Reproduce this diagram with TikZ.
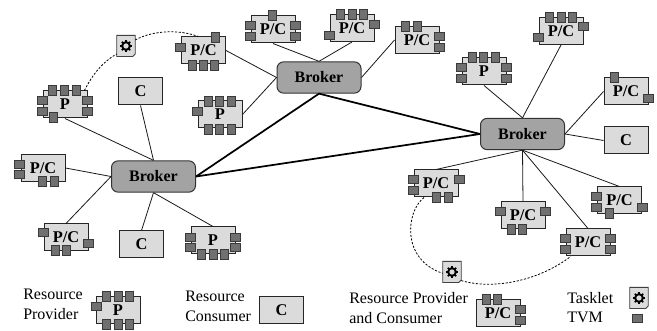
\documentclass[tikz,border=0pt]{standalone}
\usepackage{fontspec}
\setmainfont{Liberation Serif}
\newcounter{tvc}
\definecolor{boxfill}{HTML}{DBDBDB}
\definecolor{brokerfill}{HTML}{A3A3A3}
\definecolor{tvmfill}{HTML}{707070}
\definecolor{tvmline}{HTML}{3A3A3A}
\tikzset{
  compbox/.style={draw=black!85,fill=boxfill,line width=0.75pt,minimum width=33pt,minimum height=20.25pt,inner sep=0pt,font=\fontsize{12.3}{12.3}\selectfont\bfseries},
  brokerbox/.style={draw=black!80,fill=brokerfill,line width=0.75pt,rounded corners=5pt,minimum width=63pt,minimum height=23.5pt,inner sep=0pt,font=\fontsize{12}{12}\selectfont\bfseries},
  tvmh/.style={draw=tvmline,fill=tvmfill,line width=0.6pt,minimum width=7.6pt,minimum height=6pt,inner sep=0pt},
  tvmv/.style={draw=tvmline,fill=tvmfill,line width=0.6pt,minimum width=6pt,minimum height=7.6pt,inner sep=0pt},
  link/.style={draw=black!90,line width=0.6pt},
  thicklink/.style={draw=black,line width=1.3pt},
  taskpath/.style={draw=black,line width=0.6pt,dash pattern=on 1.6pt off 1.2pt},
  legend/.style={anchor=base west,inner sep=0pt,font=\fontsize{12}{12}\selectfont},
  taskbox/.style={draw=none,fill=none,minimum width=13.5pt,minimum height=15.5pt,inner sep=0pt},
}
% name, cx, cy, label, upright TVMs, flat TVMs
\newcommand{\comp}[6]{%
  \node[compbox] (#1) at (#2,#3) {#4};
  \foreach \tx/\ty in {#5} {\stepcounter{tvc}\node[tvmv] (tv\thetvc) at (\tx,\ty) {};}
  \foreach \tx/\ty in {#6} {\stepcounter{tvc}\node[tvmh] (tv\thetvc) at (\tx,\ty) {};}
}
% name, cx, cy
\newcommand{\tasklet}[3]{%
  \node[taskbox] (#1) at (#2,#3) {};
  \draw[draw=black!75,fill=boxfill,line width=0.6pt] (#1.north west) -- (#1.north east) -- ([yshift=2pt]#1.south east) -- ([xshift=-2pt]#1.south east) -- (#1.south west) -- cycle;
  \draw[black,line width=1.5pt] (#1.center) circle[radius=2.9pt];
  \foreach \ang in {0,45,...,315} {\draw[black,line width=1.2pt] (#1.center) ++(\ang:3pt) -- ++(\ang:1.5pt);}
}
\begin{document}
\begin{tikzpicture}[x=0.75pt,y=-0.75pt]
\useasboundingbox (0,0) rectangle (657,331);
\node[brokerbox] (bt) at (319,77.5) {Broker};
\node[brokerbox] (bl) at (153.5,176.5) {Broker};
\node[brokerbox] (br) at (522.5,134) {Broker};

\comp{a1}{273}{29.5}{P/C}{272.5/15}{250/25,250/36,295/25,295/36}
\comp{a2}{203.5}{50.5}{P/C}{215/37,192/65,203/65,214/65}{180/47}
\comp{a3}{352}{28}{P/C}{340/14,352/14,363/14}{374/24,329/35}
\comp{a4}{417}{40}{P/C}{405/26,417/26}{439/36,439/47}
\comp{a5}{220}{114.5}{P}{208/101,219/101,231/101,208/129,219/129,231/129}{197/111}

\comp{l1}{65}{104.5}{P}{52/90,64/90,76/90,53/117}{42/100,42/111,87/100,87/111}
\node[compbox] (l2) at (140.5,91.5) {C};
\comp{l3}{43}{168}{P/C}{42/181,54/181}{19/164,19/174}
\comp{l4}{66}{237.5}{P/C}{55/250,66/250}{43/232,88/243}
\node[compbox] (l5) at (141.5,244.5) {C};
\comp{l6}{213}{240.5}{P}{201/254,213/254,224/254}{190/237,190/247,235/237,235/247}

\comp{r1}{484}{71.5}{P}{472/57,483/57,495/57}{461/67,461/78,506/67,506/78}
\comp{r2}{561}{31}{P/C}{549/17,561/17,572/17}{583/26,538/37}
\comp{r3}{626}{91.5}{P/C}{614/77}{648/98}
\node[compbox] (r4) at (626,140.5) {C};
\comp{r5}{436}{183.5}{P/C}{436/197,448/197}{413/179,413/190,459/179}
\comp{r6}{523}{215.5}{P/C}{511/229,522/229}{500/211,545/211}
\comp{r7}{588}{242.5}{P/C}{}{565/238,565/249,610/238,610/249}
\comp{r8}{619.5}{200.5}{P/C}{609/213}{596/196,596/207,642/207}

\draw[link] (a1.south) -- (bt.north);
\draw[link] (a3.south) -- (bt.north);
\draw[link] (a4.west) -- (bt.east);
\draw[link] (a2.east) -- (bt.west);
\draw[link] (a5.east) -- (bt.west);
\draw[link] (l1.south) -- (bl.north);
\draw[link] (l2.south) -- (bl.north);
\draw[link] (l3.east) -- (bl.west);
\draw[link] (l4.north) -- (bl.west);
\draw[link] (l5.north) -- (bl.south);
\draw[link] (l6.north) -- (bl.south);
\draw[link] (r1.south) -- (br.north);
\draw[link] (r2.south) -- (br.north);
\draw[link] (r3.west) -- (br.east);
\draw[link] (r4.west) -- (br.east);
\draw[link] (r5.north) -- (br.south);
\draw[link] (r6.north) -- (br.south);
\draw[link] (r7.north) -- (br.south);
\draw[link] (r8.north) -- (br.south);
\draw[thicklink] (bl.east) -- (bt.south);
\draw[thicklink] (bl.east) -- (br.west);
\draw[thicklink] (bt.south) -- (br.west);

\tasklet{t1}{126}{46}
\tasklet{t2}{452}{272}
\draw[taskpath] ([xshift=-2.3pt]l1.north east) .. controls +(8,-16) and +(-14,8) .. ([yshift=2pt]t1.south west);
\draw[taskpath] ([yshift=4.5pt]t1.east) .. controls +(18,-10) and +(-18,-7) .. ([xshift=-4pt]a2.north);
\draw[taskpath] ([xshift=-9pt]r5.south) .. controls +(-18,14) and +(-42,-14) .. ([yshift=-1pt]t2.west);
\draw[taskpath] ([yshift=1.5pt]t2.south east) .. controls +(34,10) and +(-30,23) .. ([xshift=-13pt]r7.south);

% legend
\node[legend] (lg1) at (23,300) {Resource};
\node[legend] (lg2) at (23,320) {Provider};
\comp{k1}{118}{310.5}{P}{106/296,118/296,129/296,106/324,118/324,129/324}{96/306}
\node[legend] (lg3) at (185,302) {Resource};
\node[legend] (lg4) at (185,322) {Consumer};
\node[compbox] (k2) at (281.5,310.5) {C};
\node[legend] (lg5) at (349,304) {Resource Provider};
\node[legend] (lg6) at (349,324) {and Consumer};
\comp{k3}{498}{313.5}{P/C}{486/299,497/299}{520/309,520/320}
\node[legend] (lg7) at (567,304) {Tasklet};
\node[legend] (lg8) at (567,323) {TVM};
\tasklet{k4}{639}{298}
\node[tvmh] (k5) at (637,318) {};
\end{tikzpicture}
\end{document}
